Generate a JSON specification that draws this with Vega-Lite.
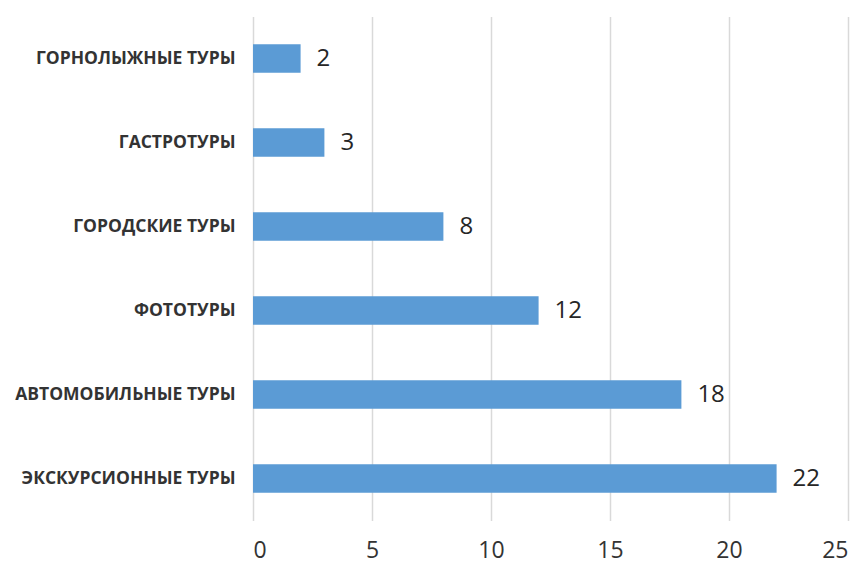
{
  "$schema": "https://vega.github.io/schema/vega-lite/v6.json",
  "width": 595,
  "height": 504,
  "autosize": {"type": "none"},
  "padding": {"left": 253, "top": 16.5, "right": 14, "bottom": 44.5},
  "background": "white",
  "config": {"view": {"stroke": null}},
  "data": {"values": [
    {"cat": "ГОРНОЛЫЖНЫЕ ТУРЫ", "v": 2},
    {"cat": "ГАСТРОТУРЫ", "v": 3},
    {"cat": "ГОРОДСКИЕ ТУРЫ", "v": 8},
    {"cat": "ФОТОТУРЫ", "v": 12},
    {"cat": "АВТОМОБИЛЬНЫЕ ТУРЫ", "v": 18},
    {"cat": "ЭКСКУРСИОННЫЕ ТУРЫ", "v": 22}
  ]},
  "encoding": {
    "y": {"field": "cat", "type": "nominal", "sort": null,
      "scale": {"paddingInner": 0.66, "paddingOuter": 0.33},
      "axis": {"title": null, "domain": false, "ticks": false, "labelFont": "Open Sans", "labelFontWeight": "bold", "labelFontSize": 17.5, "labelColor": "#333333", "labelPadding": 18, "labelLimit": 300}},
    "x": {"field": "v", "type": "quantitative",
      "scale": {"domain": [0, 25], "nice": false},
      "axis": {"title": null, "values": [0,5,10,15,20,25], "domain": false, "ticks": false, "grid": true, "gridColor": "#d9d9d9", "gridWidth": 1.5, "labelFont": "Open Sans", "labelFontSize": 23, "labelColor": "#333333", "labelPadding": 37, "labelBaseline": "alphabetic"}}
  },
  "layer": [
    {"mark": {"type": "bar", "color": "#5B9BD5"}},
    {"mark": {"type": "text", "align": "left", "dx": 16, "font": "Open Sans", "fontSize": 24, "color": "#262626"},
     "encoding": {"text": {"field": "v", "type": "quantitative"}}}
  ]
}
